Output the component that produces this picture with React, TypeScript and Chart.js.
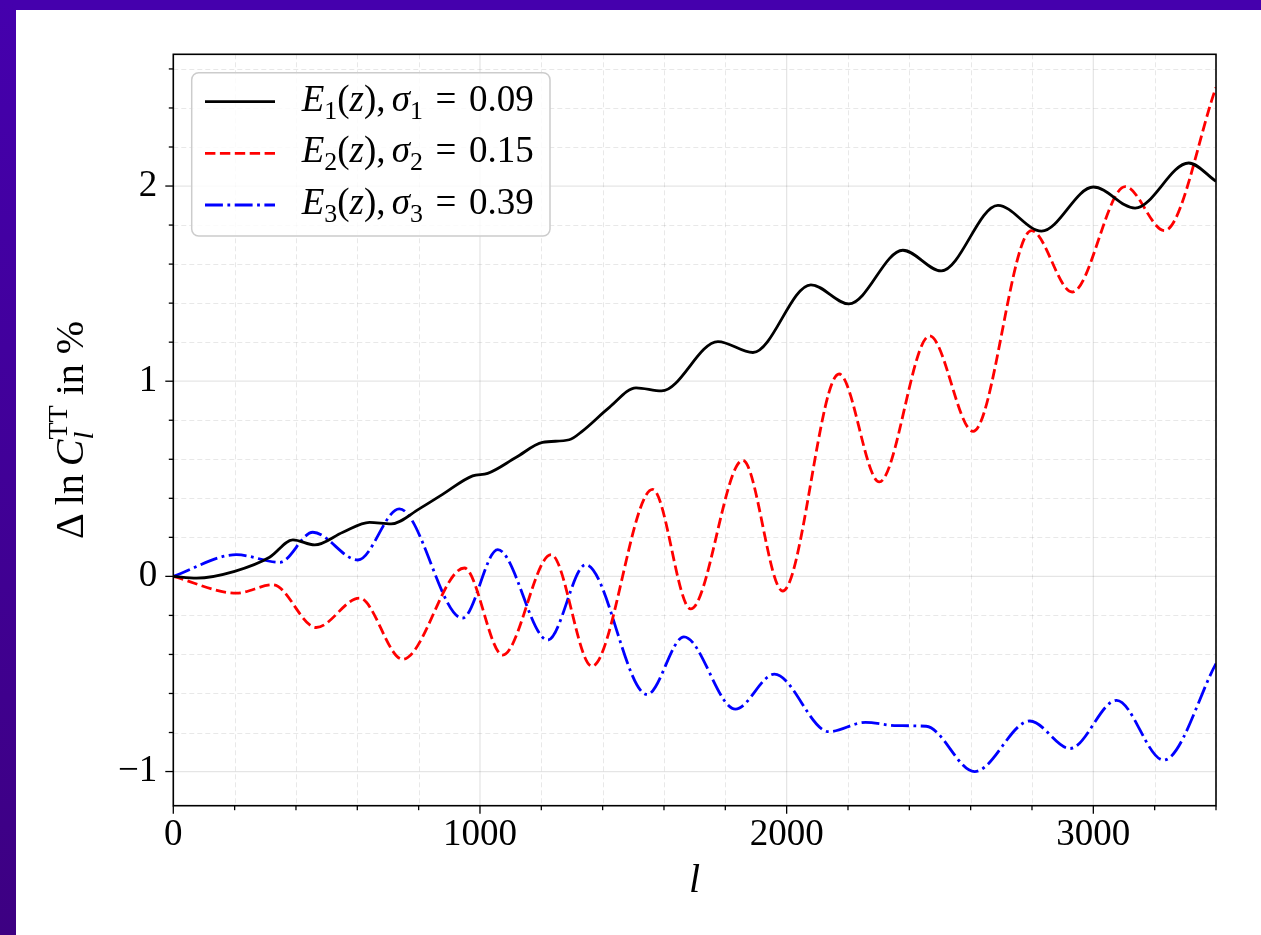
import React, { useEffect, useRef } from "react";
import { Chart, registerables } from "chart.js";

Chart.register(...registerables);

// ---- data ----
const e1L = [0, 76, 200, 314, 390, 461, 553, 640, 710, 802, 878, 976, 1025, 1117, 1204, 1291, 1335, 1422, 1509, 1592, 1776, 1890, 2079, 2203, 2379, 2504, 2689, 2831, 3000, 3136, 3311, 3400];
const e1V = [0, -0.009, 0.026, 0.098, 0.187, 0.161, 0.226, 0.277, 0.269, 0.346, 0.42, 0.515, 0.528, 0.609, 0.686, 0.7, 0.746, 0.866, 0.966, 0.95, 1.203, 1.147, 1.494, 1.396, 1.671, 1.565, 1.901, 1.769, 1.995, 1.887, 2.118, 2.024];

const e2L = [0, 206, 325, 466, 607, 748, 949, 1074, 1232, 1365, 1563, 1687, 1857, 1987, 2171, 2302, 2466, 2608, 2798, 2931, 3104, 3232, 3400];
const e2V = [0, -0.086, -0.043, -0.262, -0.111, -0.425, 0.043, -0.403, 0.111, -0.46, 0.446, -0.167, 0.595, -0.075, 1.037, 0.484, 1.232, 0.743, 1.772, 1.457, 1.997, 1.772, 2.505];

const e3L = [0, 206, 347, 455, 602, 737, 943, 1058, 1221, 1345, 1545, 1665, 1833, 1960, 2138, 2257, 2360, 2455, 2613, 2793, 2924, 3076, 3229, 3400];
const e3V = [0, 0.111, 0.072, 0.226, 0.084, 0.346, -0.214, 0.137, -0.326, 0.06, -0.605, -0.31, -0.68, -0.501, -0.796, -0.748, -0.765, -0.768, -1.0, -0.741, -0.882, -0.635, -0.941, -0.447];

const seriesIdx = ["1", "2", "3"];
const sigmas = ["0.09", "0.15", "0.39"];
const seriesLabels = ["E₁(z), σ₁ = 0.09", "E₂(z), σ₂ = 0.15", "E₃(z), σ₃ = 0.39"];

const xMajor = [0, 1000, 2000, 3000];
const xTickLabels = ["0", "1000", "2000", "3000"];
const yMajor = [-1, 0, 1, 2];
const yTickLabels = ["\u22121", "0", "1", "2"];
const xMinorStep = 200;
const yMinorStep = 0.2;
const xRange = [0, 3400];
const yRange = [-1.175, 2.675];

const FONT = "'Liberation Serif', 'DejaVu Serif', serif";
const FS = 37;
const FT = 40;
const LW = 2.8;

type Seg = { t?: string; it?: boolean; small?: boolean; dy?: number; noAdv?: boolean; sp?: number };

function drawSegs(ctx: CanvasRenderingContext2D, segs: Seg[], x: number, y: number, draw: boolean, fs: number): number {
  let cx = x;
  let pending = 0;
  for (const s of segs) {
    if (s.sp) {
      cx += s.sp * fs;
      continue;
    }
    const t = s.t || "";
    const size = s.small ? fs * 0.7 : fs;
    ctx.font = `${s.it ? "italic " : ""}${size}px ${FONT}`;
    const w = ctx.measureText(t).width;
    if (draw) ctx.fillText(t, cx, y + (s.dy || 0) * fs);
    if (s.noAdv) {
      pending = Math.max(pending, w);
    } else {
      cx += Math.max(w, pending);
      pending = 0;
    }
  }
  return cx - x;
}

function legendSegs(i: number): Seg[] {
  return [
    { t: "E", it: true },
    { t: seriesIdx[i], small: true, dy: 0.22 },
    { t: "(" },
    { t: "z", it: true },
    { t: ")" },
    { t: "," },
    { sp: 0.17 },
    { t: "σ", it: true },
    { t: seriesIdx[i], small: true, dy: 0.22 },
    { sp: 0.34 },
    { t: "=" },
    { sp: 0.34 },
    { t: sigmas[i] },
  ];
}

const yTitleSegs: Seg[] = [
  { t: "Δ" },
  { sp: 0.2 },
  { t: "ln" },
  { sp: 0.2 },
  { t: "C", it: true },
  { t: "TT", small: true, dy: -0.42, noAdv: true },
  { t: "l", it: true, small: true, dy: 0.25 },
  { t: " in %" },
];

const lineColors = ["#000000", "#ff0000", "#0000ff"];
const lineDashes: number[][] = [[], [10.4, 4.5], [17.9, 4.5, 2.8, 4.5]];

const decor = {
  id: "decor",
  beforeDatasetsDraw(chart: any) {
    const { ctx, chartArea: a, scales } = chart;
    const xs = scales.x;
    const ys = scales.y;
    ctx.save();
    // minor dashed grid
    ctx.lineWidth = 1;
    ctx.strokeStyle = "rgba(0,0,0,0.09)";
    ctx.setLineDash([5, 3]);
    for (let v = xRange[0]; v <= xRange[1] + 1e-6; v += xMinorStep) {
      if (xMajor.includes(v)) continue;
      const p = Math.round(xs.getPixelForValue(v)) + 0.5;
      ctx.beginPath();
      ctx.moveTo(p, a.top);
      ctx.lineTo(p, a.bottom);
      ctx.stroke();
    }
    for (let k = Math.ceil(yRange[0] / yMinorStep); k * yMinorStep <= yRange[1]; k++) {
      const v = +(k * yMinorStep).toFixed(3);
      if (yMajor.includes(v)) continue;
      const p = Math.round(ys.getPixelForValue(v)) + 0.5;
      ctx.beginPath();
      ctx.moveTo(a.left, p);
      ctx.lineTo(a.right, p);
      ctx.stroke();
    }
    // major solid grid
    ctx.setLineDash([]);
    ctx.strokeStyle = "rgba(0,0,0,0.1)";
    ctx.lineWidth = 1.3;
    for (const v of xMajor) {
      const p = xs.getPixelForValue(v);
      ctx.beginPath();
      ctx.moveTo(p, a.top);
      ctx.lineTo(p, a.bottom);
      ctx.stroke();
    }
    for (const v of yMajor) {
      const p = ys.getPixelForValue(v);
      ctx.beginPath();
      ctx.moveTo(a.left, p);
      ctx.lineTo(a.right, p);
      ctx.stroke();
    }
    ctx.restore();
  },
  afterDatasetsDraw(chart: any) {
    const { ctx, chartArea: a, scales } = chart;
    const xs = scales.x;
    const ys = scales.y;
    ctx.save();
    // frame
    ctx.setLineDash([]);
    ctx.strokeStyle = "#000";
    ctx.lineWidth = 1.6;
    ctx.strokeRect(a.left, a.top, a.right - a.left, a.bottom - a.top);
    // tick marks
    ctx.lineWidth = 1.3;
    for (let v = xRange[0]; v <= xRange[1] + 1e-6; v += xMinorStep) {
      const major = xMajor.includes(v);
      const p = xs.getPixelForValue(v);
      ctx.beginPath();
      ctx.moveTo(p, a.bottom);
      ctx.lineTo(p, a.bottom + (major ? 8 : 4.5));
      ctx.stroke();
    }
    for (let k = Math.ceil(yRange[0] / yMinorStep); k * yMinorStep <= yRange[1]; k++) {
      const v = +(k * yMinorStep).toFixed(3);
      const major = yMajor.includes(v);
      const p = ys.getPixelForValue(v);
      ctx.beginPath();
      ctx.moveTo(a.left, p);
      ctx.lineTo(a.left - (major ? 8 : 4.5), p);
      ctx.stroke();
    }

    // legend
    const bx = a.left + 18.4;
    const by = a.top + 18.4;
    const bw = 358.3;
    const bh = 163.3;
    ctx.beginPath();
    ctx.roundRect(bx, by, bw, bh, 7);
    ctx.fillStyle = "rgba(255,255,255,0.8)";
    ctx.fill();
    ctx.strokeStyle = "#cccccc";
    ctx.lineWidth = 1.5;
    ctx.stroke();
    const rowY = [29, 80.6, 132.3];
    for (let i = 0; i < 3; i++) {
      const cy = by + rowY[i];
      ctx.beginPath();
      ctx.setLineDash(lineDashes[i]);
      ctx.strokeStyle = lineColors[i];
      ctx.lineWidth = LW;
      ctx.moveTo(bx + 13.3, cy);
      ctx.lineTo(bx + 83.3, cy);
      ctx.stroke();
      ctx.setLineDash([]);
      ctx.fillStyle = "#000";
      ctx.textBaseline = "alphabetic";
      ctx.textAlign = "left";
      drawSegs(ctx, legendSegs(i), bx + 110, cy + 9, true, FS);
    }

    // x title
    ctx.fillStyle = "#000";
    ctx.textAlign = "center";
    ctx.textBaseline = "alphabetic";
    ctx.font = `italic ${FT}px ${FONT}`;
    ctx.fillText("l", (a.left + a.right) / 2, 882);

    // y title
    ctx.textAlign = "left";
    const w = drawSegs(ctx, yTitleSegs, 0, 0, false, FT);
    ctx.translate(67.3, (a.top + a.bottom) / 2);
    ctx.rotate(-Math.PI / 2);
    drawSegs(ctx, yTitleSegs, -w / 2, 0, true, FT);
    ctx.restore();
  },
};

export default function App() {
  const ref = useRef<HTMLCanvasElement>(null);
  useEffect(() => {
    const canvas = ref.current!;
    const mk = (L: number[], V: number[]) => L.map((x, i) => ({ x, y: V[i] }));
    const series = [mk(e1L, e1V), mk(e2L, e2V), mk(e3L, e3V)];
    const chart = new Chart(canvas, {
      type: "line",
      data: {
        datasets: series.map((d, i) => ({
          label: seriesLabels[i],
          data: d,
          borderColor: lineColors[i],
          backgroundColor: lineColors[i],
          borderWidth: LW,
          borderDash: lineDashes[i],
          borderJoinStyle: "round" as const,
          pointRadius: 0,
          cubicInterpolationMode: "monotone" as const,
          fill: false,
        })),
      },
      options: {
        responsive: false,
        animation: false,
        layout: { padding: { top: 44.3, right: 45, left: 0, bottom: 0 } },
        plugins: { legend: { display: false }, tooltip: { enabled: false } },
        scales: {
          x: {
            type: "linear",
            min: xRange[0],
            max: xRange[1],
            grid: { display: false, drawTicks: false },
            border: { display: false },
            afterBuildTicks: (s: any) => {
              s.ticks = xMajor.map((v) => ({ value: v }));
            },
            afterFit: (s: any) => {
              s.height = 129.3;
            },
            ticks: {
              padding: 7,
              color: "#000",
              font: { family: FONT, size: FS },
              maxRotation: 0,
              autoSkip: false,
              callback: (_v: any, i: number) => xTickLabels[i],
            },
          },
          y: {
            type: "linear",
            min: yRange[0],
            max: yRange[1],
            grid: { display: false, drawTicks: false },
            border: { display: false },
            afterBuildTicks: (s: any) => {
              s.ticks = yMajor.map((v) => ({ value: v }));
            },
            afterFit: (s: any) => {
              s.width = 157.3;
            },
            ticks: {
              padding: 16,
              color: "#000",
              font: { family: FONT, size: FS },
              autoSkip: false,
              callback: (_v: any, i: number) => yTickLabels[i],
            },
          },
        },
      },
      plugins: [decor],
    } as any);
    return () => chart.destroy();
  }, []);

  return (
    <div style={{ position: "fixed", left: 0, top: 0, width: 1261, height: 935, background: "#ffffff", overflow: "hidden" }}>
      <div style={{ position: "absolute", left: 0, top: 0, width: 1261, height: 10, background: "#4500ad" }} />
      <div style={{ position: "absolute", left: 0, top: 0, width: 16, height: 935, background: "linear-gradient(#4500ad, #3d0082)" }} />
      <canvas
        ref={ref}
        width={1245}
        height={925}
        style={{ position: "absolute", left: 16, top: 10, width: 1245, height: 925, display: "block" }}
      />
    </div>
  );
}
